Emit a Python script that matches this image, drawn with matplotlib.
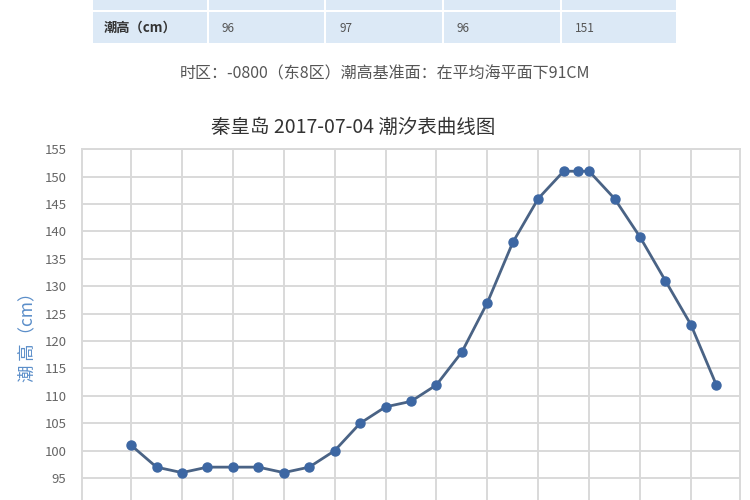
import matplotlib
matplotlib.use("Agg")
import matplotlib.pyplot as plt
from matplotlib.patches import Rectangle

plt.rcParams['font.family'] = ['Noto Sans CJK SC', 'DejaVu Sans']

# ---- data ----
hours = [0, 1, 2, 3, 4, 5, 6, 7, 8, 9, 10, 11, 12, 13, 14, 15, 16, 17, 17.55, 18,
         19, 20, 21, 22, 23]
heights = [101, 97, 96, 97, 97, 97, 96, 97, 100, 105, 108, 109, 112, 118, 127, 138,
           146, 151, 151, 151, 146, 139, 131, 123, 112]
y_ticks = [90, 95, 100, 105, 110, 115, 120, 125, 130, 135, 140, 145, 150, 155]
x_grid = [0, 2, 4, 6, 8, 10, 12, 14, 16, 18, 20, 22]
table_label = "潮高（cm）"
table_values = ["96", "97", "96", "151"]
subtitle = "时区：-0800（东8区）潮高基准面：在平均海平面下91CM"
title = "秦皇岛 2017-07-04 潮汐表曲线图"
ylabel = "潮 高（cm）"

W, H = 750, 500
fig = plt.figure(figsize=(7.5, 5), dpi=100)
fig.patch.set_facecolor('white')

def fx(px):
    return px / W

def fy(py):
    return 1 - py / H

# ---- table fragment at top ----
col_edges = [92, 208, 325, 443, 561, 677]
cell_color = '#dce9f6'
for i in range(5):
    x0, x1 = col_edges[i], col_edges[i + 1]
    fig.patches.append(Rectangle((fx(x0 + 1), fy(10)), fx(x1 - x0 - 2), 30 / H,
                                 transform=fig.transFigure, facecolor=cell_color,
                                 edgecolor='none'))
    fig.patches.append(Rectangle((fx(x0 + 1), fy(43)), fx(x1 - x0 - 2), 31 / H,
                                 transform=fig.transFigure, facecolor=cell_color,
                                 edgecolor='none'))
fig.text(fx(104), fy(28), table_label, fontsize=9.5, fontweight='bold',
         color='#333333', ha='left', va='center')
for i, v in enumerate(table_values):
    fig.text(fx(col_edges[i + 1] + 14), fy(28), v, fontsize=8.5, color='#555555',
             ha='left', va='center')

# ---- subtitle & title ----
fig.text(fx(385), fy(74), subtitle, fontsize=11.5, color='#555555',
         ha='center', va='center')
fig.text(fx(353), fy(127), title, fontsize=14, color='#333333',
         ha='center', va='center')

# ---- chart ----
top_px, bot_px = 149.3, 505.5
ax = fig.add_axes([fx(81.7), fy(bot_px), fx(740 - 81.7), (bot_px - top_px) / H])
ax.set_xlim(-1.94, 23.93)
ax.set_ylim(90, 155)
ax.set_yticks(y_ticks)
ax.set_xticks(x_grid)
ax.set_xticklabels([])
ax.grid(True, color='#d9d9d9', linewidth=1.4)
ax.set_axisbelow(True)
for s in ax.spines.values():
    s.set_color('#d9d9d9')
    s.set_linewidth(1.4)
ax.tick_params(axis='both', length=0, labelsize=9.5, labelcolor='#666666', pad=11)

ax.plot(hours, heights, color='#4a6385', linewidth=2, marker='o', markersize=6.5,
        markerfacecolor='#3d67a3', markeredgecolor='#3d67a3', clip_on=False)

fig.text(fx(27), fy(333), ylabel, fontsize=12.5, color='#5b8ec9', rotation=90,
         ha='center', va='center')

fig.savefig('out.png', dpi=100)
